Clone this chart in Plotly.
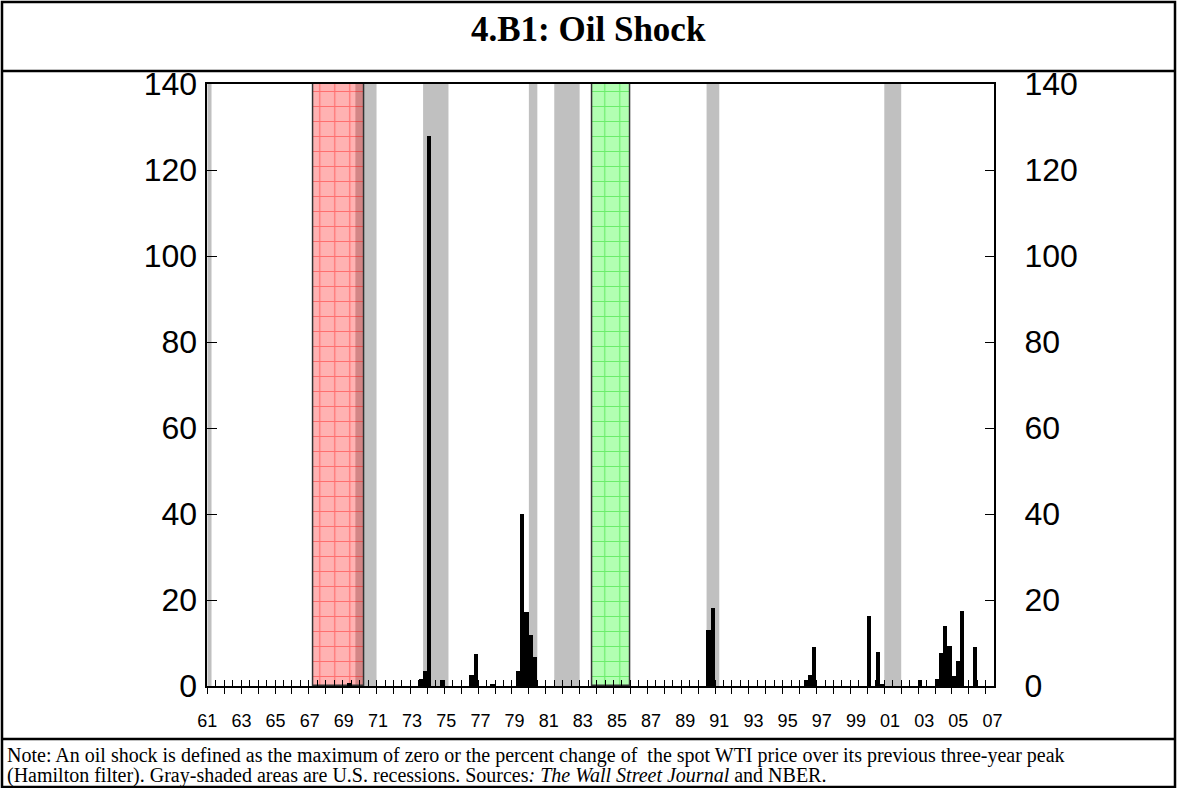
import plotly.graph_objects as go

W, H = 1177, 788

# quarterly oil shock values (nonzero quarters only)
quarters = ["1969Q2", "1973Q3", "1973Q4", "1974Q1", "1974Q4", "1976Q3", "1976Q4", "1977Q4",
            "1979Q2", "1979Q3", "1979Q4", "1980Q1", "1980Q2", "1990Q3", "1990Q4",
            "1996Q2", "1996Q3", "1996Q4", "2000Q1", "2000Q3", "2000Q4", "2003Q1",
            "2004Q1", "2004Q2", "2004Q3", "2004Q4", "2005Q1", "2005Q2", "2005Q3", "2006Q2"]
shock = [0.8, 1.6, 3.5, 128.0, 1.4, 2.6, 7.5, 0.3,
         3.5, 40.1, 17.1, 11.9, 6.8, 13.1, 18.2,
         1.4, 2.6, 9.1, 16.3, 7.9, 0.4, 1.4,
         1.6, 7.7, 14.0, 9.3, 2.3, 5.8, 17.5, 9.1]

# NBER recessions (decimal years, quarter boundaries)
recession_start = [1960.25, 1969.75, 1973.75, 1980.0, 1981.5, 1990.5, 2001.0]
recession_end = [1961.25, 1971.0, 1975.25, 1980.5, 1983.0, 1991.25, 2002.0]

red_span = [1967.25, 1970.25]
green_span = [1983.75, 1986.0]

x_range = [1961.0, 2007.5]
y_max = 140
y_ticks = [0, 20, 40, 60, 80, 100, 120, 140]
tick_years = list(range(1961, 2008))
label_text = ["61", "63", "65", "67", "69", "71", "73", "75", "77", "79", "81", "83",
              "85", "87", "89", "91", "93", "95", "97", "99", "01", "03", "05", "07"]
label_step = 2.017  # labels drift slightly against the yearly ticks in the original

note_1 = ("Note: An oil shock is defined as the maximum of zero or the percent change of\u00a0 the spot WTI price "
          "over its previous three-year peak")
note_2 = ("(Hamilton filter). Gray-shaded areas are U.S. recessions. "
          "Sources<i>: The Wall Street Journal</i> and NBER.")


def qpos(q):
    year, qn = q.split("Q")
    return int(year) + (int(qn) - 0.5) / 4


def px_x(p):
    return p / W


def px_y(p):
    return 1 - p / H


fig = go.Figure()

for span, col, fg in [(red_span, "rgba(255,0,0,0.3)", "rgba(255,0,0,0.75)"),
                      (green_span, "rgba(0,255,0,0.3)", "rgba(0,210,0,0.8)")]:
    fig.add_bar(
        x=[(span[0] + span[1]) / 2], y=[y_max], width=[span[1] - span[0]],
        marker=dict(color=col, line=dict(color="#333333", width=1.5),
                    pattern=dict(shape="+", size=15, solidity=0.15, fgcolor=fg, fillmode="overlay")),
        showlegend=False, hoverinfo="skip",
    )

fig.add_bar(
    x=[qpos(q) for q in quarters], y=shock, width=0.25,
    marker=dict(color="black", line=dict(width=0)),
    showlegend=False, name="Oil shock",
)

# empty traces so the overlay axes get drawn
fig.add_scatter(x=[], y=[], xaxis="x2", yaxis="y", showlegend=False)
fig.add_scatter(x=[], y=[], xaxis="x3", yaxis="y", showlegend=False)
fig.add_scatter(x=[], y=[], xaxis="x", yaxis="y2", showlegend=False)

for s, e in zip(recession_start, recession_end):
    fig.add_shape(type="rect", xref="x", yref="y", x0=max(s, x_range[0]), x1=min(e, x_range[1]),
                  y0=0, y1=y_max, fillcolor="#C0C0C0", line=dict(width=0), layer="below")

dom_x = [px_x(207.3), px_x(994.3)]
dom_y = [px_y(686), px_y(84)]
tick_font = dict(family="Liberation Sans, Arial", size=32, color="black")

fig.update_layout(
    width=W, height=H, autosize=False,
    margin=dict(l=0, r=0, t=0, b=0, pad=0, autoexpand=False),
    paper_bgcolor="white", plot_bgcolor="white", barmode="overlay", bargap=0,
    xaxis=dict(domain=dom_x, range=x_range, tickvals=tick_years, showticklabels=False,
               ticks="outside", ticklen=6, tickwidth=1.2, tickcolor="black",
               showline=True, linecolor="black", linewidth=1.5, mirror=True,
               showgrid=False, zeroline=False, automargin=False),
    xaxis2=dict(overlaying="x", anchor="y", range=x_range, tick0=1961, dtick=0.5,
                ticks="inside", ticklen=6, tickwidth=1.2, tickcolor="black",
                showticklabels=False, showgrid=False, zeroline=False, showline=False,
                automargin=False),
    xaxis3=dict(overlaying="x", anchor="y", range=x_range,
                tickvals=[1961 + i * label_step for i in range(len(label_text))],
                ticktext=label_text, ticks="", showgrid=False, zeroline=False, showline=False,
                ticklabelstandoff=22, automargin=False,
                tickfont=dict(family="Liberation Sans, Arial", size=18, color="black")),
    yaxis=dict(domain=dom_y, range=[0, y_max], tickvals=y_ticks, ticks="inside", ticklen=10,
               tickwidth=1.2, tickcolor="black", showline=True, linecolor="black", linewidth=1.5,
               showgrid=False, zeroline=False, tickfont=tick_font, ticklabelstandoff=2,
               automargin=False),
    yaxis2=dict(overlaying="y", side="right", anchor="x", range=[0, y_max], tickvals=y_ticks,
                ticks="inside", ticklen=10, tickwidth=1.2, tickcolor="black",
                showline=True, linecolor="black", linewidth=1.5,
                showgrid=False, zeroline=False, tickfont=tick_font, ticklabelstandoff=22,
                automargin=False),
)

# frame lines
frame = dict(color="black", width=2.5)
fig.add_shape(type="rect", xref="paper", yref="paper", x0=px_x(2), x1=px_x(1175),
              y0=px_y(787), y1=px_y(2), line=frame)
fig.add_shape(type="line", xref="paper", yref="paper", x0=px_x(2), x1=px_x(1175),
              y0=px_y(71), y1=px_y(71), line=frame)
fig.add_shape(type="line", xref="paper", yref="paper", x0=px_x(2), x1=px_x(1175),
              y0=px_y(739), y1=px_y(739), line=frame)

serif = "Liberation Serif, Times New Roman"
fig.add_annotation(text="<b>4.B1: Oil Shock</b>", xref="paper", yref="paper", x=0.5, y=px_y(29),
                   xanchor="center", yanchor="middle", showarrow=False,
                   font=dict(family=serif, size=35, color="black"))
fig.add_annotation(text=note_1, xref="paper", yref="paper", x=px_x(5), y=px_y(755),
                   xanchor="left", yanchor="middle", align="left", showarrow=False,
                   font=dict(family=serif, size=20, color="black"))
fig.add_annotation(text=note_2, xref="paper", yref="paper", x=px_x(5), y=px_y(775),
                   xanchor="left", yanchor="middle", align="left", showarrow=False,
                   font=dict(family=serif, size=20, color="black"))

fig.write_html("out.html", config={"displayModeBar": False},
               post_script="document.body.style.margin='0px';")
